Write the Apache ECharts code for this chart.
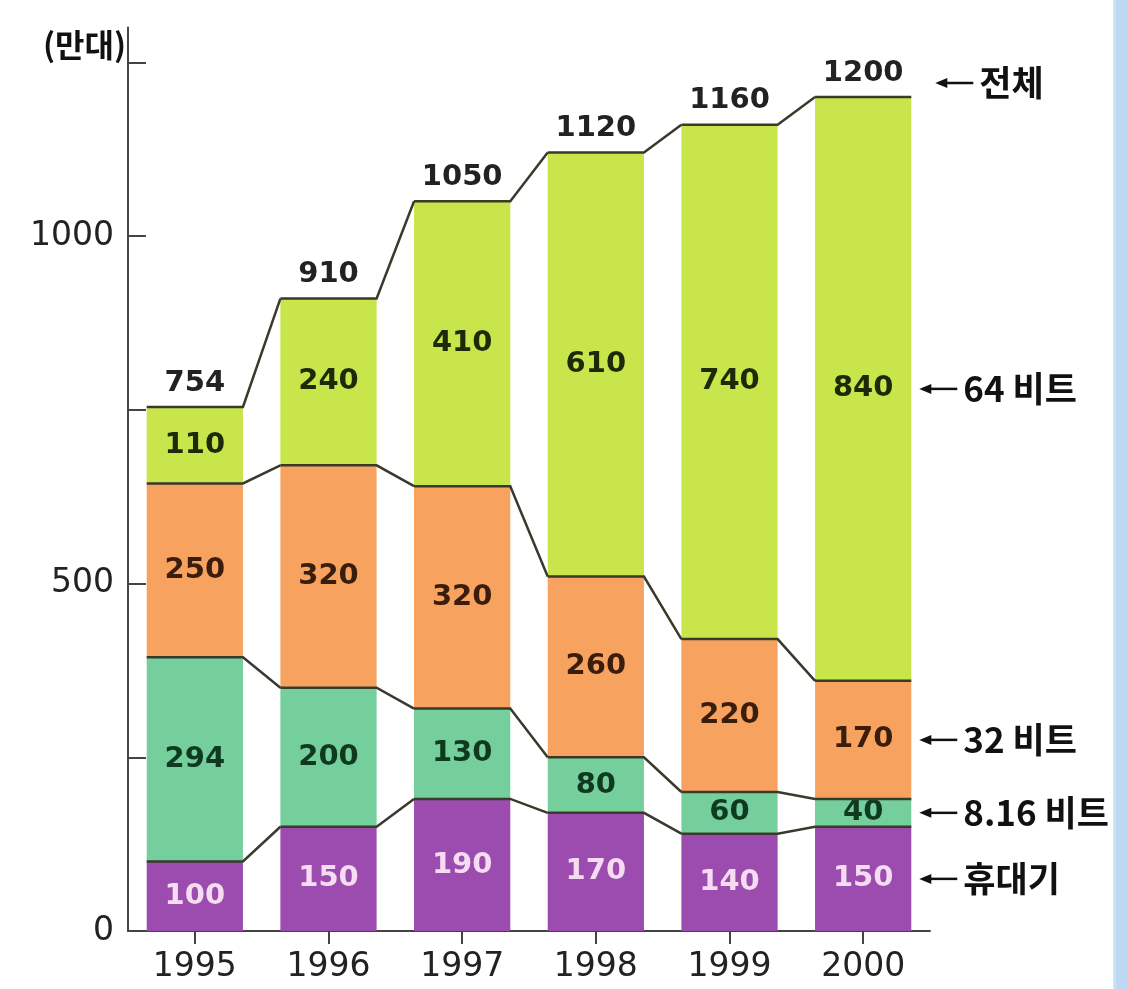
<!DOCTYPE html>
<html><head><meta charset="utf-8">
<script src="https://cdn.jsdelivr.net/npm/echarts@6/dist/echarts.min.js"></script>
<style>html,body{margin:0;padding:0;background:#fff}#c{width:1128px;height:989px}</style>
</head><body><div id="c"></div>
<script>
const years = ['1995','1996','1997','1998','1999','2000'];
const handheld = [100,150,190,170,140,150];
const bit816 = [294,200,130,80,60,40];
const bit32 = [250,320,320,260,220,170];
const bit64 = [110,240,410,610,740,840];
const totals = [754,910,1050,1120,1160,1200];
const seriesNames = ['휴대기','8.16 비트','32 비트','64 비트'];
const totalName = '전체';
const unitLabel = '(만대)';
const yTicks = [0,250,500,750,1000,1250];
const yLabels = [0,500,1000];

const colors = ['#9b4cae','#74cf9c','#f7a35f','#c8e64b'];
const labelColors = ['#f6dcf3','#0f3a20','#3b1d0d','#1d2a08'];
const BAR_RATIO = 0.72;
const numFont = '"DejaVu Sans", sans-serif';
const krFont = '"Noto Sans CJK KR", sans-serif';

const stacks = [handheld, bit816, bit32, bit64];
const cum = [];
stacks.forEach((arr, k) => {
  cum.push(arr.map((v, i) => (k ? cum[k-1][i] : 0) + v));
});

const chart = echarts.init(document.getElementById('c'), null, {renderer:'canvas'});

const barSeries = stacks.map((arr, k) => ({
  name: seriesNames[k], type: 'bar', stack: 'all', data: arr,
  barCategoryGap: ((1-BAR_RATIO)*100)+'%',
  itemStyle: {color: colors[k]},
  label: {show: true, position: 'inside', color: labelColors[k],
    fontFamily: numFont, fontWeight: 'bold', fontSize: 29},
  z: 2
}));

const lineData = years.map((y, i) => [i, cum[0][i], cum[1][i], cum[2][i], cum[3][i]]);

const customSeries = {
  type: 'custom', z: 5, silent: true,
  data: lineData,
  encode: {x: 0, y: [1,2,3,4]},
  renderItem: function(params, api) {
    const i = api.value(0);
    const band = api.size([1, 0])[0];
    const half = band * BAR_RATIO / 2;
    const children = [];
    for (let k = 0; k < 4; k++) {
      const p = api.coord([i, cum[k][i]]);
      const pts = [[p[0]-half, p[1]], [p[0]+half, p[1]]];
      if (i < years.length - 1) {
        const q = api.coord([i+1, cum[k][i+1]]);
        pts.push([q[0]-half, q[1]]);
      }
      children.push({type:'polyline', shape:{points:pts},
        style:{stroke:'#3a3a2c', lineWidth:2.5, fill:null}});
    }
    const t = api.coord([i, totals[i]]);
    children.push({type:'text', style:{text:String(totals[i]), x:t[0], y:t[1]-24,
      align:'center', verticalAlign:'middle', fill:'#222',
      font:'bold 29px ' + numFont}});
    return {type:'group', children: children};
  }
};

chart.setOption({
  animation: false,
  backgroundColor: '#ffffff',
  grid: {left: 128, right: 198, top: 27.5, bottom: 58, containLabel: false},
  xAxis: {
    type: 'category', data: years,
    axisLine: {lineStyle: {color: '#444', width: 2}},
    axisTick: {show: true, alignWithLabel: true, length: 13, lineStyle: {color:'#444', width: 2}},
    axisLabel: {color: '#222', fontSize: 33, fontFamily: numFont, margin: 20}
  },
  yAxis: {
    type: 'value', min: 0, max: 1300,
    splitLine: {show: false},
    axisLine: {show: true, lineStyle: {color: '#444', width: 2}},
    axisTick: {show: true, inside: true, length: 18, customValues: yTicks, lineStyle: {color:'#444', width: 2}},
    axisLabel: {color: '#222', fontSize: 33, fontFamily: numFont, margin: 14, customValues: yLabels,
      formatter: v => String(v)}
  },
  series: barSeries.concat([customSeries])
});

const last = years.length - 1;
const mids = stacks.map((arr, k) => (k ? cum[k-1][last] : 0) + arr[last] / 2);
const annos = [];
const rightEdge = chart.convertToPixel({xAxisIndex:0}, last) + chart.getModel().getComponent('xAxis',0).axis.getBandWidth()*BAR_RATIO/2;
function addArrow(y, text, tipX) {
  annos.push({type:'line', shape:{x1:tipX+8, y1:y, x2:tipX+38, y2:y}, style:{stroke:'#111', lineWidth:2.5}});
  annos.push({type:'polygon', shape:{points:[[tipX, y],[tipX+12, y-5],[tipX+12, y+5]]}, style:{fill:'#111'}});
  annos.push({type:'text', style:{text:text, x:tipX+44, y:y, verticalAlign:'middle', align:'left',
    fill:'#111', font:'bold 35px ' + krFont}});
}
mids.forEach((m, k) => {
  addArrow(chart.convertToPixel({yAxisIndex:0}, m), seriesNames[k], rightEdge + 8);
});
addArrow(chart.convertToPixel({yAxisIndex:0}, totals[last]) - 14, totalName, rightEdge + 24);

annos.push({type:'text', style:{text:unitLabel, x:126, y:45, align:'right', verticalAlign:'middle',
  fill:'#111', font:'bold 32px ' + krFont}});
annos.push({type:'rect', shape:{x:1113, y:0, width:15, height:989},
  style:{fill:new echarts.graphic.LinearGradient(0,0,1,0,[{offset:0,color:'#d6e7f7'},{offset:0.3,color:'#bcd8f3'},{offset:1,color:'#bcd8f3'}])}});

chart.setOption({graphic: annos});
</script>
</body></html>
